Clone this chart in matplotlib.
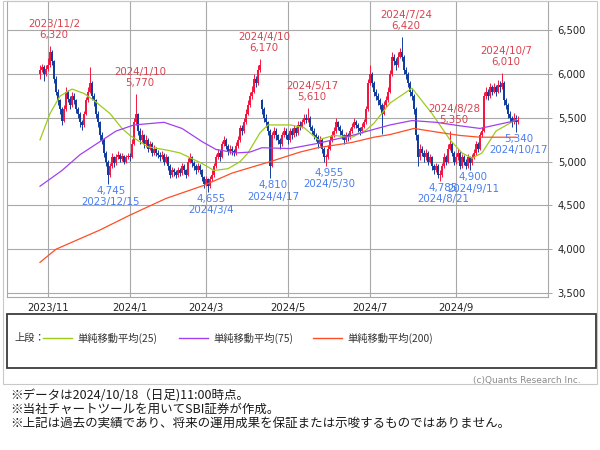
import matplotlib.pyplot as plt
import matplotlib.patches as patches
from matplotlib.lines import Line2D
import numpy as np
import pandas as pd

plt.rcParams['font.family'] = ['DejaVu Sans', 'Noto Sans CJK JP']

# 東証の休場日 (期間内の平日)
holidays = ['2023-11-03', '2023-11-23', '2024-01-01', '2024-01-02', '2024-01-03',
            '2024-01-08', '2024-02-12', '2024-02-23', '2024-03-20', '2024-04-29',
            '2024-05-03', '2024-05-06', '2024-07-15', '2024-08-12', '2024-09-16',
            '2024-09-23', '2024-10-14']
days = pd.bdate_range('2023-10-26', '2024-10-18')
days = days[~days.isin(pd.to_datetime(holidays))]

# 日足 (終値・高値・安値) -- 図から読み取り
first_open = 6000
gap_open = {111: 5700}
close = [6050, 6080, 6000, 6060, 6100, 6250, 6150, 5950, 5800, 5700,
         5600, 5470, 5600, 5800, 5720, 5650, 5750, 5700, 5600, 5550,
         5450, 5420, 5550, 5700, 5800, 5900, 5750, 5700, 5550, 5450,
         5300, 5250, 5100, 5000, 4850, 4950, 5050, 4980, 5050, 5080,
         5030, 5060, 5000, 5050, 5070, 5050, 5200, 5450, 5550, 5350,
         5250, 5300, 5200, 5250, 5150, 5200, 5100, 5150, 5100, 5080,
         5050, 5080, 5000, 5050, 4950, 4850, 4900, 4880, 4850, 4900,
         4870, 4950, 4900, 4850, 5000, 5050, 4980, 4950, 4900, 4950,
         4900, 4820, 4750, 4800, 4720, 4800, 4850, 4950, 5050, 5100,
         5050, 5200, 5250, 5180, 5120, 5150, 5120, 5100, 5180, 5250,
         5380, 5350, 5450, 5550, 5650, 5750, 5800, 5950, 5900, 6050,
         6100, 5600, 5500, 5450, 5350, 4950, 5300, 5350, 5300, 5250,
         5200, 5300, 5350, 5300, 5250, 5350, 5300, 5380, 5330, 5420,
         5400, 5450, 5500, 5480, 5500, 5400, 5350, 5300, 5280, 5200,
         5250, 5150, 5050, 5050, 5150, 5250, 5300, 5350, 5450, 5400,
         5350, 5300, 5250, 5300, 5280, 5350, 5400, 5450, 5420, 5380,
         5350, 5400, 5450, 5600, 5900, 6000, 5900, 5800, 5750, 5700,
         5650, 5550, 5650, 5700, 5800, 6000, 6200, 6150, 6100, 6200,
         6250, 6200, 6050, 6000, 5900, 5800, 5750, 5600, 5300, 5050,
         5150, 5100, 5050, 5100, 5000, 5050, 4950, 4900, 4950, 4850,
         4850, 4950, 5050, 5000, 5150, 5200, 5100, 5000, 5050, 5100,
         4950, 5050, 5000, 4950, 5050, 4980, 5050, 5100, 5200, 5150,
         5300, 5350, 5750, 5800, 5750, 5850, 5800, 5850, 5800, 5880,
         5850, 5900, 5700, 5650, 5550, 5500, 5450, 5500, 5450, 5480]
high = [6100, 6120, 6100, 6100, 6180, 6320, 6280, 6160, 5980, 5830,
        5720, 5620, 5650, 5850, 5820, 5750, 5800, 5780, 5720, 5620,
        5570, 5480, 5580, 5740, 5850, 6080, 5920, 5780, 5720, 5580,
        5470, 5340, 5270, 5120, 5020, 4990, 5100, 5070, 5090, 5120,
        5100, 5100, 5080, 5080, 5100, 5100, 5260, 5500, 5770, 5560,
        5380, 5360, 5320, 5300, 5270, 5240, 5220, 5190, 5170, 5130,
        5110, 5120, 5100, 5090, 5060, 4970, 4940, 4930, 4910, 4940,
        4930, 4990, 4970, 4920, 5040, 5100, 5070, 5010, 4970, 4990,
        4970, 4920, 4840, 4840, 4810, 4840, 4900, 4990, 5090, 5150,
        5130, 5240, 5290, 5270, 5200, 5190, 5180, 5150, 5220, 5290,
        5420, 5420, 5500, 5600, 5700, 5800, 5860, 6000, 5980, 6100,
        6170, 5720, 5620, 5550, 5470, 5370, 5340, 5400, 5380, 5320,
        5270, 5340, 5400, 5380, 5330, 5390, 5380, 5420, 5400, 5460,
        5460, 5490, 5550, 5540, 5610, 5520, 5420, 5380, 5330, 5300,
        5290, 5270, 5170, 5090, 5190, 5290, 5350, 5400, 5500, 5470,
        5420, 5370, 5320, 5340, 5330, 5390, 5440, 5500, 5480, 5440,
        5400, 5440, 5490, 5640, 5950, 6100, 6020, 5920, 5830, 5780,
        5730, 5670, 5690, 5750, 5850, 6050, 6250, 6230, 6180, 6250,
        6300, 6420, 6220, 6080, 6020, 5920, 5830, 5770, 5620, 5320,
        5200, 5180, 5130, 5150, 5120, 5090, 5070, 4970, 4990, 4970,
        4900, 4990, 5100, 5080, 5200, 5350, 5220, 5120, 5100, 5150,
        5120, 5090, 5080, 5030, 5090, 5070, 5090, 5140, 5240, 5230,
        5340, 5400, 5800, 5850, 5830, 5900, 5880, 5900, 5880, 5930,
        5920, 6010, 5920, 5730, 5670, 5580, 5520, 5560, 5530, 5520]
low = [5950, 6020, 5920, 5980, 6040, 6080, 6100, 5900, 5760, 5650,
       5550, 5420, 5450, 5580, 5680, 5600, 5630, 5660, 5560, 5500,
       5400, 5360, 5400, 5530, 5680, 5780, 5700, 5640, 5500, 5400,
       5250, 5200, 5050, 4950, 4745, 4820, 4930, 4940, 4960, 5030,
       5000, 5010, 4970, 4980, 5030, 5010, 5040, 5190, 5420, 5300,
       5200, 5230, 5160, 5170, 5110, 5130, 5070, 5080, 5060, 5040,
       5010, 5030, 4960, 4980, 4910, 4810, 4830, 4840, 4810, 4830,
       4840, 4850, 4860, 4810, 4840, 4980, 4940, 4910, 4860, 4880,
       4860, 4780, 4700, 4720, 4655, 4700, 4780, 4830, 4930, 5030,
       5010, 5040, 5180, 5140, 5080, 5090, 5080, 5060, 5080, 5160,
       5230, 5310, 5330, 5430, 5530, 5630, 5720, 5780, 5850, 5880,
       6020, 5550, 5450, 5400, 5300, 4810, 4940, 5270, 5250, 5200,
       5150, 5180, 5280, 5260, 5200, 5230, 5260, 5280, 5290, 5310,
       5360, 5380, 5430, 5440, 5450, 5360, 5300, 5260, 5240, 5160,
       5180, 5100, 5000, 4955, 5030, 5130, 5230, 5280, 5330, 5360,
       5310, 5260, 5200, 5230, 5240, 5260, 5330, 5380, 5380, 5340,
       5310, 5330, 5380, 5430, 5580, 5880, 5850, 5750, 5700, 5650,
       5600, 5320, 5530, 5620, 5680, 5780, 5980, 6100, 6050, 6080,
       6180, 6150, 6000, 5950, 5850, 5750, 5700, 5550, 5250, 4950,
       5020, 5060, 5000, 5020, 4960, 4980, 4910, 4860, 4880, 4810,
       4785, 4830, 4930, 4960, 4980, 5130, 5060, 4960, 4970, 5020,
       4920, 4930, 4960, 4920, 4930, 4900, 4960, 5030, 5080, 5110,
       5130, 5280, 5340, 5720, 5700, 5730, 5760, 5780, 5750, 5780,
       5800, 5830, 5650, 5600, 5500, 5450, 5400, 5430, 5340, 5430]

# 移動平均線 (営業日番号, 値) -- 図から読み取り
ma25_pos = [0, 5, 10, 16, 22, 27, 35, 41, 45, 54, 64, 70, 81, 87, 94, 100, 104, 110,
            114, 125, 132, 139, 147, 156, 163, 167, 175, 186, 196, 205, 211, 216, 221, 228, 238]
ma25_val = [5250, 5550, 5750, 5830, 5780, 5700, 5550, 5380, 5300, 5170, 5130, 5100, 4980,
            4900, 4920, 5000, 5100, 5330, 5420, 5420, 5390, 5250, 5300, 5280, 5360, 5440,
            5670, 5840, 5550, 5250, 5100, 5040, 5100, 5350, 5480]
ma75_pos = [0, 11, 20, 30, 38, 47, 62, 71, 81, 88, 98, 105, 111, 125, 139, 156, 167, 175,
            186, 198, 210, 220, 230, 238]
ma75_val = [4720, 4900, 5080, 5230, 5350, 5420, 5450, 5380, 5230, 5140, 5100, 5110, 5160,
            5150, 5210, 5300, 5370, 5420, 5470, 5450, 5410, 5380, 5430, 5470]
ma200_pos = [0, 8, 30, 45, 63, 82, 96, 115, 130, 139, 156, 167, 175, 187, 198, 210, 220, 238]
ma200_val = [3850, 4000, 4220, 4390, 4580, 4730, 4870, 5000, 5110, 5160, 5220, 5280, 5310,
             5380, 5340, 5300, 5280, 5280]

peak_dates = ['2023-11-02', '2024-01-10', '2024-04-10', '2024-05-17', '2024-07-24',
              '2024-08-28', '2024-10-07']
bottom_dates = ['2023-12-15', '2024-03-04', '2024-04-17', '2024-05-30', '2024-08-21',
                '2024-09-11', '2024-10-17']
tick_months = ['2023-11', '2024-01', '2024-03', '2024-05', '2024-07', '2024-09']
y_ticks = [3500, 4000, 4500, 5000, 5500, 6000, 6500]

UP = '#f5163f'
DOWN = '#123c9e'
GRID = '#a8a8a8'

fig = plt.figure(figsize=(6, 4.5), dpi=100)
ax = fig.add_axes([7 / 600, 1 - 297 / 450, 541 / 600, 296.5 / 450])

x = np.arange(len(close))
opens = [first_open] + close[:-1]
for k, v in gap_open.items():
    opens[k] = v
opens = np.array(opens)
close_a = np.array(close)
colors = [UP if c >= o else DOWN for o, c in zip(opens, close_a)]

ax.vlines(x, low, high, colors=colors, linewidth=0.7, zorder=3)
body_bottom = np.minimum(opens, close_a)
body_height = np.maximum(np.abs(close_a - opens), 10)
ax.bar(x, body_height, bottom=body_bottom, width=0.8, color=colors, linewidth=0, zorder=3)

ax.plot(ma25_pos, ma25_val, color='#9ccc1a', lw=0.9, zorder=4)
ax.plot(ma75_pos, ma75_val, color='#a040f0', lw=0.9, zorder=4)
ax.plot(ma200_pos, ma200_val, color='#ff4d26', lw=0.9, zorder=4)

ann_font = dict(fontsize=7.4, family='DejaVu Sans', linespacing=1.15)
for d in peak_dates:
    dt = pd.Timestamp(d)
    i = days.get_loc(dt)
    label = f'{dt.year}/{dt.month}/{dt.day}\n{high[i]:,}'
    ax.annotate(label, xy=(i, high[i]), xytext=(4, 6), textcoords='offset pixels',
                ha='center', va='bottom', color='#d9434f', zorder=6, **ann_font)
for d in bottom_dates:
    dt = pd.Timestamp(d)
    i = days.get_loc(dt)
    label = f'{low[i]:,}\n{dt.year}/{dt.month}/{dt.day}'
    ax.annotate(label, xy=(i, low[i]), xytext=(3, -2), textcoords='offset pixels',
                ha='center', va='top', color='#4a7ef0', zorder=6, **ann_font)

month_first = pd.Series(np.arange(len(days)), index=days).groupby(days.to_period('M')).first()
xt = [month_first[pd.Period(m)] for m in tick_months]
ax.set_xticks(xt)
ax.set_xticklabels([m.replace('-0', '/').replace('-', '/') for m in tick_months])
ax.set_yticks(y_ticks)
ax.set_yticklabels([f'{v:,}' for v in y_ticks])
ax.yaxis.tick_right()
ax.tick_params(axis='x', length=0, pad=4, labelsize=7.3, labelcolor='#222222')
ax.tick_params(axis='y', length=3, width=0.7, color=GRID, pad=4, labelsize=7.2,
               labelcolor='#222222')
ax.set_xlim(-16.5, 254)
ax.set_ylim(3454, 6842)
ax.grid(True, color=GRID, lw=0.8, zorder=0)
ax.set_axisbelow(True)
for s in ax.spines.values():
    s.set_color(GRID)
    s.set_linewidth(0.8)

# 外枠と凡例
fig.patches.append(patches.Rectangle((3 / 600, 1 - 384 / 450), 594 / 600, 383.5 / 450,
                                     transform=fig.transFigure, fill=False,
                                     edgecolor='#c8c8c8', lw=0.8))
fig.patches.append(patches.Rectangle((7 / 600, 1 - 368 / 450), 589 / 600, 54 / 450,
                                     transform=fig.transFigure, fill=False,
                                     edgecolor='#3a3a3a', lw=1.3))
ly = 1 - 338 / 450
leg_font = dict(fontsize=7.4, family=['Noto Sans CJK JP', 'DejaVu Sans'], va='center',
                color='#333333')
fig.text(14 / 600, ly, '上段：', **leg_font)
legend_items = [('単純移動平均(25)', '#9ccc1a', 43), ('単純移動平均(75)', '#a040f0', 179),
                ('単純移動平均(200)', '#ff4d26', 313)]
for text, col, x0 in legend_items:
    fig.add_artist(Line2D([x0 / 600, (x0 + 29) / 600], [ly, ly], color=col, lw=1.0,
                          transform=fig.transFigure))
    fig.text((x0 + 34) / 600, ly, text, **leg_font)

fig.text(581 / 600, 1 - 380 / 450, '(c)Quants Research Inc.', ha='right', va='center',
         fontsize=6.5, color='#8a8a8a')

notes = ['※データは2024/10/18（日足)11:00時点。',
         '※当社チャートツールを用いてSBI証券が作成。',
         '※上記は過去の実績であり、将来の運用成果を保証または示唆するものではありません。']
for k, t in enumerate(notes):
    fig.text(10 / 600, 1 - (396 + 13.5 * k) / 450, t, va='center', fontsize=9,
             family=['Noto Sans CJK JP', 'DejaVu Sans'], color='#1a1a1a')

fig.savefig('out.png', dpi=100)
